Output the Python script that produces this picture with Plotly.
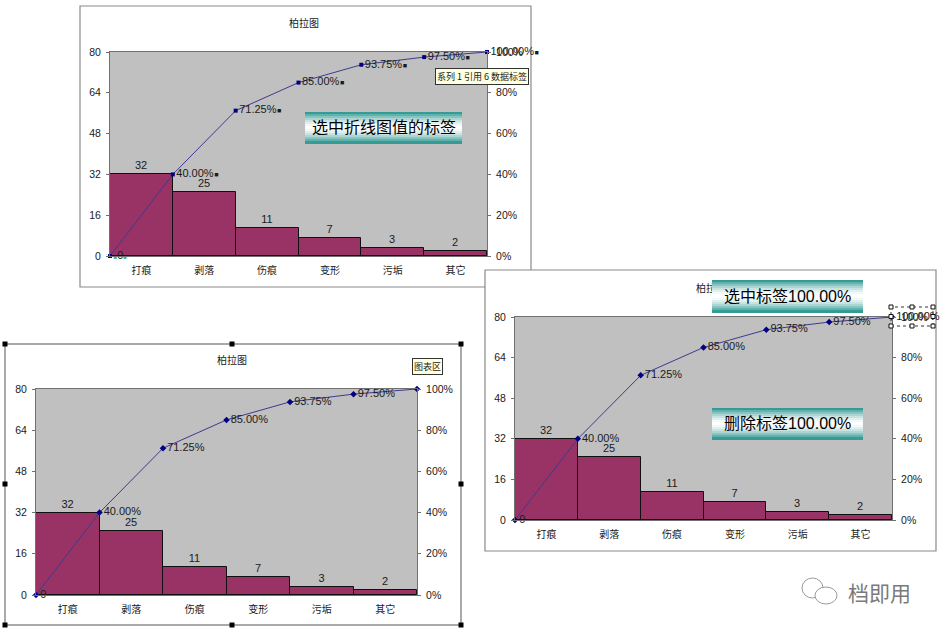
import plotly.graph_objects as go

W, H = 944, 634

# ---------------- data ----------------
categories = ["打痕", "剥落", "伤痕", "变形", "污垢", "其它"]
counts = [32, 25, 11, 7, 3, 2]
cum_pct = [0.0, 0.40, 0.7125, 0.85, 0.9375, 0.975, 1.0]
cum_labels = ["0", "40.00%", "71.25%", "85.00%", "93.75%", "97.50%", "100.00%"]
count_ticks = [0, 16, 32, 48, 64, 80]
pct_ticks = [0, 0.2, 0.4, 0.6, 0.8, 1.0]
pct_tick_labels = ["0%", "20%", "40%", "60%", "80%", "100%"]
chart_title = "柏拉图"
note_select_line = "选中折线图值的标签"
note_select_label = "选中标签100.00%"
note_delete_label = "删除标签100.00%"
tip_series = "系列 1 引用 6 数据标签"
tip_area = "图表区"
watermark = "档即用"

# ---------------- styles ----------------
FONT = "Liberation Sans, Arial, Noto Sans CJK SC, sans-serif"
TXT = "#1a1a1a"
BAR = "#993366"
LINE = "#3f3a8f"
MARK = "#000080"
PLOTBG = "#C0C0C0"
AXLINE = "#707070"


def fx(p):
    return p / W


def fy(p):
    return 1 - p / H


def ax(n):
    return "" if n == 1 else str(n)


HANDLE = "<span style='font-size:7px'>&#8202;■</span>"
CYAN_H = "<span style='font-size:6px;color:#38b0b0'>■</span>"

charts = [
    dict(plot=(110, 52, 487, 256), title=(304, 23),
         labels=[CYAN_H + "0" + CYAN_H] + [l + HANDLE for l in cum_labels[1:]],
         msym="square", msize=4),
    dict(plot=(36, 389, 417, 595), title=(232, 359),
         labels=cum_labels[:-1] + [""], msym="diamond", msize=5),
    dict(plot=(515, 317, 892, 520), title=(711, 287),
         labels=list(cum_labels), msym="diamond", msize=5),
]

fig = go.Figure()
layout = {}
annotations = []
shapes = []

for i, ch in enumerate(charts):
    xa, xb, ya, yb = 2 * i + 1, 2 * i + 2, 2 * i + 1, 2 * i + 2
    x0, y0, x1, y1 = ch["plot"]
    fig.add_trace(go.Bar(
        x=categories, y=counts, text=[str(c) for c in counts],
        textposition="outside", cliponaxis=False,
        textfont=dict(family=FONT, size=11, color=TXT),
        marker=dict(color=BAR, line=dict(color="#101010", width=1)),
        xaxis="x" + ax(xa), yaxis="y" + ax(ya), showlegend=False,
        hoverinfo="skip"))
    fig.add_trace(go.Scatter(
        x=list(range(len(cum_pct))), y=cum_pct, text=ch["labels"],
        mode="lines+markers+text", textposition="middle right",
        cliponaxis=False,
        textfont=dict(family=FONT, size=11, color=TXT),
        line=dict(color=LINE, width=1),
        marker=dict(symbol=ch["msym"], size=ch["msize"], color=MARK),
        xaxis="x" + ax(xb), yaxis="y" + ax(yb), showlegend=False,
        hoverinfo="skip"))
    layout["xaxis" + ax(xa)] = dict(
        domain=[fx(x0), fx(x1)], type="category", range=[-0.5, 5.5],
        anchor="y" + ax(ya), showline=True, mirror=True, linecolor=AXLINE,
        linewidth=1, showgrid=False, zeroline=False, ticks="",
        ticklabelstandoff=5, automargin=False,
        tickfont=dict(family="Noto Sans CJK SC", size=10, color=TXT),
        fixedrange=True)
    layout["yaxis" + ax(ya)] = dict(
        domain=[fy(y1), fy(y0)], range=[0, 80], tickvals=count_ticks,
        anchor="x" + ax(xa), showline=True, mirror=True, linecolor=AXLINE,
        linewidth=1, showgrid=False, zeroline=False, ticks="outside",
        ticklen=3, tickcolor=AXLINE, ticklabelstandoff=3, automargin=False,
        tickfont=dict(family=FONT, size=10.5, color=TXT), fixedrange=True)
    layout["xaxis" + ax(xb)] = dict(
        overlaying="x" + ax(xa), range=[0, 6], visible=False,
        anchor="y" + ax(yb), fixedrange=True, automargin=False)
    layout["yaxis" + ax(yb)] = dict(
        overlaying="y" + ax(ya), side="right", range=[0, 1],
        tickvals=pct_ticks, ticktext=pct_tick_labels, anchor="x" + ax(xb),
        showgrid=False, zeroline=False, showline=False, ticks="outside",
        ticklen=3, tickcolor=AXLINE, ticklabelstandoff=3, automargin=False,
        tickfont=dict(family=FONT, size=10.5, color=TXT), fixedrange=True)
    tx, ty = ch["title"]
    annotations.append(dict(
        x=fx(tx), y=fy(ty), xref="paper", yref="paper", text=chart_title,
        showarrow=False, xanchor="center", yanchor="middle",
        font=dict(family="Noto Sans CJK SC", size=10, color=TXT)))

# ---------------- chart frames ----------------
def P(x, y):
    return f"{fx(x)},{fy(y)}"


shapes.append(dict(type="path", xref="paper", yref="paper", layer="below",
                   path=f"M{P(485,287)} L{P(80,287)} L{P(80,6)} L{P(531,6)} L{P(531,270)}",
                   line=dict(color="#8a8a8a", width=1.2)))
shapes.append(dict(type="rect", xref="paper", yref="paper", layer="below",
                   x0=fx(5), x1=fx(461), y0=fy(625), y1=fy(344),
                   line=dict(color="#555555", width=1)))
shapes.append(dict(type="rect", xref="paper", yref="paper", layer="below",
                   x0=fx(485), x1=fx(936), y0=fy(551), y1=fy(270),
                   line=dict(color="#8a8a8a", width=1.2)))

# selection handles of chart area (chart 2)
for hx in (5, 232, 461):
    for hy in (344, 484, 625):
        if hx == 232 and hy == 484:
            continue
        shapes.append(dict(type="rect", xref="paper", yref="paper",
                           x0=fx(hx - 2.5), x1=fx(hx + 2.5),
                           y0=fy(hy + 2.5), y1=fy(hy - 2.5),
                           fillcolor="black", line=dict(width=0)))

# selected data label box (chart 3)
shapes.append(dict(type="rect", xref="paper", yref="paper",
                   x0=fx(891), x1=fx(933), y0=fy(326), y1=fy(307),
                   line=dict(color="#333333", width=1, dash="dot")))
for hx in (891, 912, 933):
    for hy in (307, 316.5, 326):
        if hx == 912 and hy == 316.5:
            continue
        shapes.append(dict(type="rect", xref="paper", yref="paper",
                           x0=fx(hx - 2), x1=fx(hx + 2),
                           y0=fy(hy + 2), y1=fy(hy - 2),
                           fillcolor="white", line=dict(color="#111111", width=1)))

# ---------------- gradient text boxes ----------------
TEAL = (30, 145, 137)


def grad_box(x0, y0, x1, y1, text, n=16):
    h = (y1 - y0) / n
    for k in range(n):
        s = (k + 0.5) / n
        w = abs(2 * s - 1) ** 1.7
        c = tuple(int(round(TEAL[j] * w + 255 * (1 - w))) for j in range(3))
        annotations.append(dict(
            x=fx(x0), y=fy(y0 + k * h), xref="paper", yref="paper",
            xanchor="left", yanchor="top", text=" ", showarrow=False,
            width=x1 - x0, height=h + 0.6, borderpad=0, borderwidth=0,
            bgcolor=f"rgb{c}", font=dict(size=1)))
    annotations.append(dict(
        x=fx((x0 + x1) / 2), y=fy((y0 + y1) / 2), xref="paper", yref="paper",
        xanchor="center", yanchor="middle", text=text, showarrow=False,
        font=dict(family=FONT, size=16, color="black")))


grad_box(305, 112, 462, 143, note_select_line)
grad_box(712, 280, 863, 312, note_select_label)
grad_box(712, 408, 863, 439, note_delete_label)

# ---------------- tooltips ----------------
annotations.append(dict(
    x=fx(482), y=fy(76), xref="paper", yref="paper", text=tip_series,
    showarrow=False, xanchor="center", yanchor="middle",
    bgcolor="#FFFFE1", bordercolor="#333333", borderwidth=1, borderpad=1,
    font=dict(family="Noto Sans CJK SC", size=9, color=TXT)))
annotations.append(dict(
    x=fx(427), y=fy(367), xref="paper", yref="paper", text=tip_area,
    showarrow=False, xanchor="center", yanchor="middle",
    bgcolor="#FFFFE1", bordercolor="#333333", borderwidth=1, borderpad=1,
    font=dict(family="Noto Sans CJK SC", size=9, color=TXT)))

# ---------------- watermark ----------------
shapes.append(dict(type="circle", xref="paper", yref="paper",
                   x0=fx(802), x1=fx(823), y0=fy(598), y1=fy(578),
                   fillcolor="white", line=dict(color="#9a9a9a", width=1)))
shapes.append(dict(type="circle", xref="paper", yref="paper",
                   x0=fx(815), x1=fx(837), y0=fy(604), y1=fy(587),
                   fillcolor="white", line=dict(color="#9a9a9a", width=1)))
annotations.append(dict(
    x=fx(879), y=fy(592), xref="paper", yref="paper", text=watermark,
    showarrow=False, xanchor="center", yanchor="middle",
    font=dict(family="Noto Sans CJK SC", size=21, color="#7a7a7a")))

fig.update_layout(
    width=W, height=H, autosize=False,
    margin=dict(l=0, r=0, t=0, b=0, pad=0, autoexpand=False),
    paper_bgcolor="white", plot_bgcolor=PLOTBG,
    bargap=0, showlegend=False,
    annotations=annotations, shapes=shapes,
    font=dict(family=FONT, color=TXT),
    **layout)

fig.write_html(
    "out.html",
    config={"displayModeBar": False, "responsive": False},
    post_script="document.body.style.margin='0';document.body.style.overflow='hidden';",
)
